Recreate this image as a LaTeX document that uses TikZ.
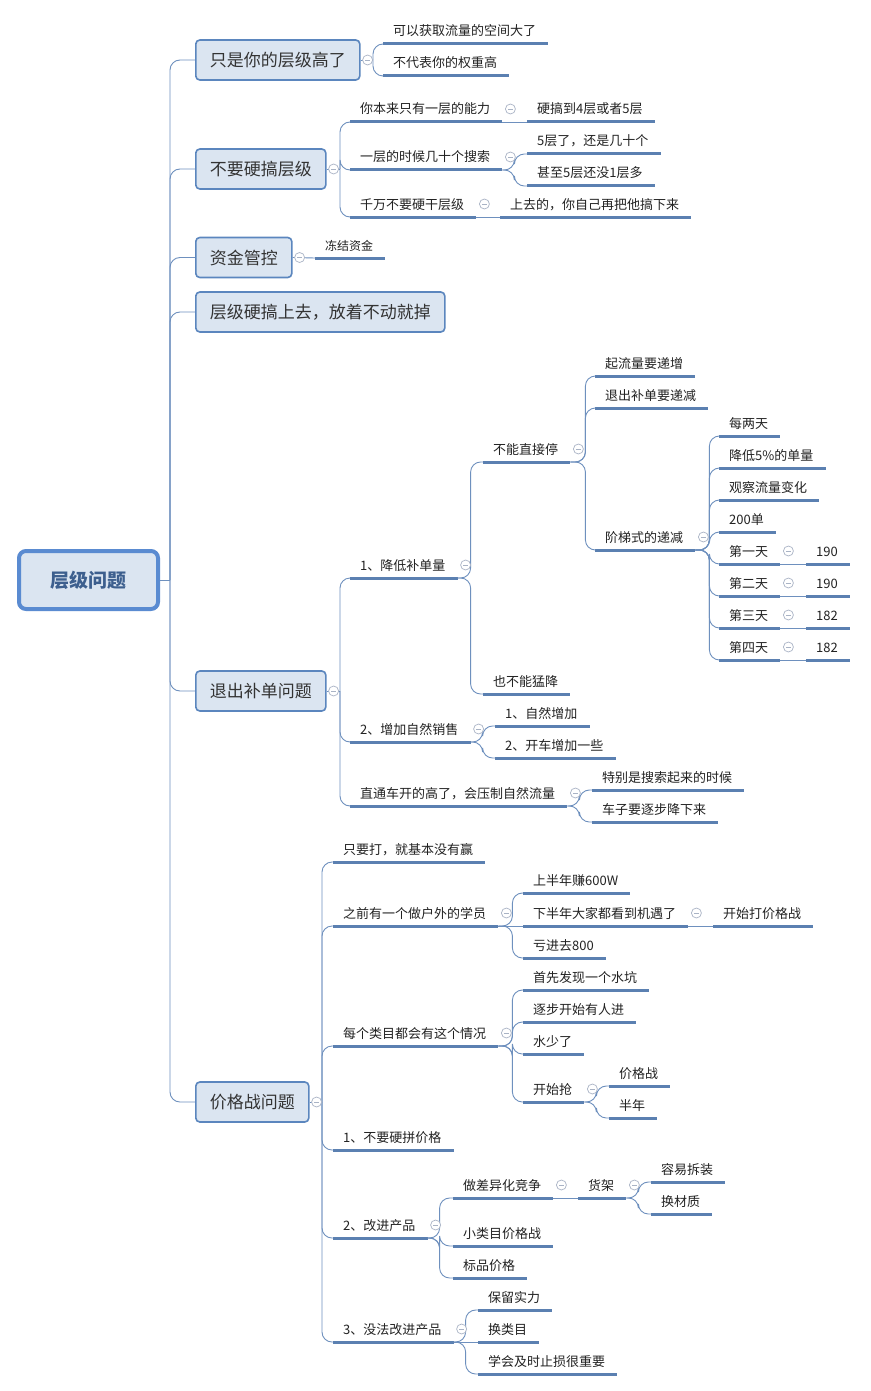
\documentclass[tikz,border=0pt]{standalone}
\usepackage{fontspec}
\setmainfont{Noto Sans CJK SC}
\definecolor{ul}{HTML}{5B80B1}
\definecolor{cn}{HTML}{6E90BE}
\definecolor{bxf}{HTML}{DBE5F1}
\definecolor{bxd}{HTML}{5B86BE}
\definecolor{rtd}{HTML}{5A8BD1}
\definecolor{rtt}{HTML}{3D5F8E}
\definecolor{cir}{HTML}{A9B3C5}
\definecolor{txt}{HTML}{222222}
\tikzset{
 lftext/.style={inner sep=0pt, anchor=base west, text=txt},
 uline/.style={draw=ul, line width=3pt},
 cl/.style={draw=cn, line width=0.9pt, rounded corners=10pt},
 topic/.style={draw=bxd, line width=1.6pt, fill=bxf, rounded corners=4pt, minimum height=40pt, inner xsep=14pt, anchor=west, text=black!80, font=\fontsize{17}{20}\selectfont},
 roottopic/.style={draw=rtd, line width=4pt, fill=bxf, rounded corners=7pt, minimum width=139pt, minimum height=58pt, text=rtt, font=\fontsize{19}{22}\selectfont\bfseries},
 coll/.style={circle, draw=cir, fill=white, line width=0.7pt, minimum size=10pt, inner sep=0pt, path picture={\draw[cir, line width=0.7pt] ([xshift=-2.6pt]path picture bounding box.center) -- ([xshift=2.6pt]path picture bounding box.center);}},
}
% leaf: [font size] name, x of underline start, y of underline, text
\newcommand\lf[5][13]{%
  \node[lftext, font=\fontsize{#1}{#1}\selectfont] (#2-t) at (#3+10,#4-8) {#5};
  \coordinate (#2-s) at (#3,#4);
  \coordinate (#2-q) at (#2-t.east |- #2-s);
  \coordinate (#2-e) at ([xshift=12pt]#2-q);
  \draw[uline] (#2-s) -- (#2-e);
}
\newcommand\collapse[1]{\node[coll] (#1-c) at ([xshift=8pt,yshift=13pt]#1-e) {};}
\newcommand\fork[2][12pt]{\coordinate (#2-j) at ([xshift=#1]#2-e);}
\newcommand\br[2]{\draw[cl] (#1-e) -- (#1-j) |- (#2-s);}
\newcommand\st[2]{\draw[cl] (#1-e) -- (#2-s);}
\newcommand\bb[2]{\draw[cl] (#1-j) |- (#2-s);}
\begin{document}
\begin{tikzpicture}[x=1pt,y=-1pt]
\useasboundingbox (0,0) rectangle (870,1391);
\fill[white] (0,0) rectangle (870,1391);

% ---------- root and first level ----------
\node[roottopic] (root) at (88.5,580) {层级问题};
\coordinate (J0) at (170,580);
\node[topic] (L1) at (195,60) {只是你的层级高了};
\node[topic] (L2) at (195,169) {不要硬搞层级};
\node[topic] (L3) at (195,257.5) {资金管控};
\node[topic] (L4) at (195,312) {层级硬搞上去，放着不动就掉};
\node[topic] (L5) at (195,691) {退出补单问题};
\node[topic] (L6) at (195,1102) {价格战问题};

\draw[cl] (root.east) -- (J0);
\foreach \n in {L1,L2,L3,L4,L5,L6} {\draw[cl,rounded corners=10pt] (J0) |- (\n.west);}

% ---------- L1 ----------
\coordinate (L1-j) at (373,60);
\lf{a1}{383}{44}{可以获取流量的空间大了}
\lf{a2}{383}{76}{不代表你的权重高}
\draw[cl] (L1.east) -- (L1-j);
\bb{L1}{a1} \bb{L1}{a2}

% ---------- L2 ----------
\coordinate (L2-j) at (340,169);
\lf{b1}{350}{122}{你本来只有一层的能力}
\lf{b11}{527}{122}{硬搞到4层或者5层}
\lf{b2}{350}{170}{一层的时候几十个搜索}
\lf{b21}{527}{154}{5层了，还是几十个}
\lf{b22}{527}{186}{甚至5层还没1层多}
\lf{b3}{350}{217}{千万不要硬干层级}
\lf{b31}{500}{217}{上去的，你自己再把他搞下来}
\draw[cl] (L2.east) -- (L2-j);
\bb{L2}{b1} \bb{L2}{b2} \bb{L2}{b3}
\st{b1}{b11}
\fork{b2} \br{b2}{b21} \br{b2}{b22}
\st{b3}{b31}

% ---------- L3 ----------
\lf[12]{c1}{315}{258}{冻结资金}
\draw[cl] (L3.east) -- (c1-s);

% ---------- L5 ----------
\coordinate (L5-j) at (340,691);
\lf{d1}{350}{578}{1、降低补单量}
\lf{d11}{483}{462}{不能直接停}
\lf{d111}{595}{376}{起流量要递增}
\lf{d112}{595}{408}{退出补单要递减}
\lf{d113}{595}{550}{阶梯式的递减}
\lf{e1}{719}{436}{每两天}
\lf{e2}{719}{468}{降低5\%的单量}
\lf{e3}{719}{500}{观察流量变化}
\lf{e4}{719}{532}{200单}
\lf{e5}{719}{564}{第一天}
\lf{f5}{806}{564}{190}
\lf{e6}{719}{596}{第二天}
\lf{f6}{806}{596}{190}
\lf{e7}{719}{628}{第三天}
\lf{f7}{806}{628}{182}
\lf{e8}{719}{660}{第四天}
\lf{f8}{806}{660}{182}
\lf{d12}{483}{694}{也不能猛降}
\lf{d2}{350}{742}{2、增加自然销售}
\lf{d21}{495}{726}{1、自然增加}
\lf{d22}{495}{758}{2、开车增加一些}
\lf{d3}{350}{806}{直通车开的高了，会压制自然流量}
\lf{d31}{592}{790}{特别是搜索起来的时候}
\lf{d32}{592}{822}{车子要逐步降下来}
\draw[cl] (L5.east) -- (L5-j);
\bb{L5}{d1} \bb{L5}{d2} \bb{L5}{d3}
\fork[13pt]{d1} \br{d1}{d11} \br{d1}{d12}
\fork[15pt]{d11} \br{d11}{d111} \br{d11}{d112} \br{d11}{d113}
\fork[14pt]{d113}
\foreach \k in {e1,e2,e3,e4,e5,e6,e7,e8} {\br{d113}{\k}}
\st{e5}{f5} \st{e6}{f6} \st{e7}{f7} \st{e8}{f8}
\fork{d2} \br{d2}{d21} \br{d2}{d22}
\fork{d3} \br{d3}{d31} \br{d3}{d32}

% ---------- L6 ----------
\coordinate (L6-j) at (322,1102);
\lf{g1}{333}{862}{只要打，就基本没有赢}
\lf{g2}{333}{926}{之前有一个做户外的学员}
\lf{g21}{523}{893}{上半年赚600W}
\lf{g22}{523}{926}{下半年大家都看到机遇了}
\lf{g221}{713}{926}{开始打价格战}
\lf{g23}{523}{958}{亏进去800}
\lf{g3}{333}{1046}{每个类目都会有这个情况}
\lf{g31}{523}{990}{首先发现一个水坑}
\lf{g32}{523}{1022}{逐步开始有人进}
\lf{g33}{523}{1054}{水少了}
\lf{g34}{523}{1102}{开始抢}
\lf{g341}{609}{1086}{价格战}
\lf{g342}{609}{1118}{半年}
\lf{g4}{333}{1150}{1、不要硬拼价格}
\lf{g5}{333}{1238}{2、改进产品}
\lf{g51}{453}{1198}{做差异化竞争}
\lf{g511}{578}{1198}{货架}
\lf{g5111}{651}{1182}{容易拆装}
\lf{g5112}{651}{1214}{换材质}
\lf{g52}{453}{1246}{小类目价格战}
\lf{g53}{453}{1278}{标品价格}
\lf{g6}{333}{1342}{3、没法改进产品}
\lf{g61}{478}{1310}{保留实力}
\lf{g62}{478}{1342}{换类目}
\lf{g63}{478}{1374}{学会及时止损很重要}
\draw[cl] (L6.east) -- (L6-j);
\foreach \k in {g1,g2,g3,g4,g5,g6} {\bb{L6}{\k}}
\fork[14pt]{g2} \br{g2}{g21} \st{g2}{g22} \br{g2}{g23}
\st{g22}{g221}
\fork[14pt]{g3} \br{g3}{g31} \br{g3}{g32} \br{g3}{g33} \br{g3}{g34}
\fork{g34} \br{g34}{g341} \br{g34}{g342}
\fork{g5} \br{g5}{g51} \br{g5}{g52} \br{g5}{g53}
\st{g51}{g511}
\fork{g511} \br{g511}{g5111} \br{g511}{g5112}
\fork{g6} \br{g6}{g61} \st{g6}{g62} \br{g6}{g63}

% ---------- collapse markers ----------
\foreach \n in {L1,L2,L3,L5,L6} {\node[coll] (\n-c) at ([xshift=7pt]\n.east) {};}
\foreach \n in {b1,b2,b3,d1,d11,d113,e5,e6,e7,e8,d2,d3,g2,g22,g3,g34,g5,g51,g511,g6} {\collapse{\n}}
\end{tikzpicture}
\end{document}
